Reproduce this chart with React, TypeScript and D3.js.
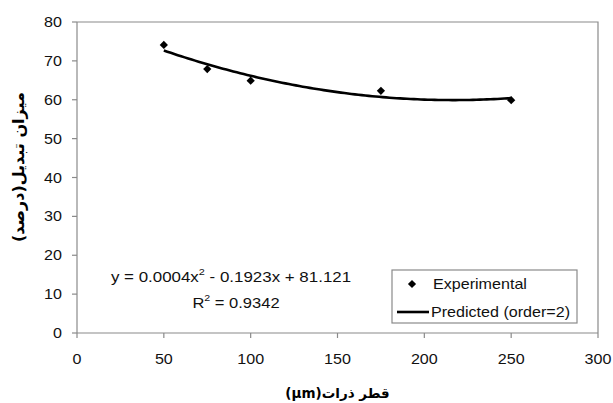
import React from "react";
import * as d3 from "d3";

// ---- data ----
const diameters = [50, 75, 100, 175, 250]; // µm
const conversion = [74.1, 67.9, 64.9, 62.3, 59.9]; // %
const xTicks = [0, 50, 100, 150, 200, 250, 300];
const yTicks = [0, 10, 20, 30, 40, 50, 60, 70, 80];
const legendLabels = ["Experimental", "Predicted (order=2)"];
const equationText = "y = 0.0004x";
const equationRest = " - 0.1923x + 81.121";
const r2Text = " = 0.9342";
const xTitle = "قطر ذرات(μm)";
const yTitle = "میزان تبدیل(درصد)";

// least-squares quadratic fit of the experimental points (trendline)
function quadFit(xs: number[], ys: number[]) {
  const S = (f: (x: number, y: number) => number) =>
    xs.reduce((s, x, i) => s + f(x, ys[i]), 0);
  const n = xs.length;
  const s1 = S((x) => x), s2 = S((x) => x * x), s3 = S((x) => x ** 3), s4 = S((x) => x ** 4);
  const t0 = S((_, y) => y), t1 = S((x, y) => x * y), t2 = S((x, y) => x * x * y);
  const M = [
    [n, s1, s2, t0],
    [s1, s2, s3, t1],
    [s2, s3, s4, t2],
  ];
  for (let i = 0; i < 3; i++) {
    for (let k = i + 1; k < 3; k++) {
      const f = M[k][i] / M[i][i];
      for (let j = i; j < 4; j++) M[k][j] -= f * M[i][j];
    }
  }
  const sol = [0, 0, 0];
  for (let i = 2; i >= 0; i--) {
    let v = M[i][3];
    for (let j = i + 1; j < 3; j++) v -= M[i][j] * sol[j];
    sol[i] = v / M[i][i];
  }
  const [c, b, a] = sol;
  return (x: number) => a * x * x + b * x + c;
}

const W = 613, H = 403;
const L = 77, R = 598, T = 22, B = 333;
const FONT = "'Liberation Sans', Arial, sans-serif";
const AR_FONT = "'DejaVu Sans', sans-serif";
const SX = 1.15;
const FS = 14;
const GRAY = "#8a8a8a";
const TXT = "#111";

function T2({ x, y, anchor = "start", children, size = FS }: any) {
  return (
    <text
      transform={`translate(${x},${y}) scale(${SX},1)`}
      textAnchor={anchor}
      dominantBaseline="central"
      fontFamily={FONT}
      fontSize={size}
      fill={TXT}
    >
      {children}
    </text>
  );
}

export default function App() {
  const x = d3.scaleLinear().domain([0, 300]).range([L, R]);
  const y = d3.scaleLinear().domain([0, 80]).range([B, T]);
  const fit = quadFit(diameters, conversion);
  const xs = d3.range(diameters[0], diameters[diameters.length - 1] + 0.001, 2);
  const line = d3
    .line<number>()
    .x((d) => x(d))
    .y((d) => y(fit(d)));
  const marker = d3.symbol().type(d3.symbolSquare).size(34)()!;

  const legX = 392, legY = 270, legW = 185, legH = 53;

  return (
    <svg
      width={W}
      height={H}
      style={{ position: "absolute", left: 0, top: 0, background: "#fff" }}
    >
      <rect x={0} y={0} width={W} height={H} fill="#fff" />
      {/* plot frame */}
      <path d={`M${L},${T}H${R}V${B}`} fill="none" stroke={GRAY} strokeWidth={1.2} />
      {/* axes */}
      <line x1={L} x2={L} y1={T} y2={B} stroke={GRAY} strokeWidth={1.2} />
      <line x1={L} x2={R} y1={B} y2={B} stroke={GRAY} strokeWidth={1.2} />
      {yTicks.map((t) => (
        <g key={"y" + t}>
          <line x1={L - 5} x2={L} y1={y(t)} y2={y(t)} stroke={GRAY} strokeWidth={1.2} />
          <T2 x={62} y={y(t)} anchor="end">
            {t}
          </T2>
        </g>
      ))}
      {xTicks.map((t) => (
        <g key={"x" + t}>
          <line x1={x(t)} x2={x(t)} y1={B} y2={B + 5} stroke={GRAY} strokeWidth={1.2} />
          <T2 x={x(t)} y={359} anchor="middle">
            {t}
          </T2>
        </g>
      ))}
      {/* trendline */}
      <path d={line(xs)!} fill="none" stroke="#000" strokeWidth={2.6} />
      {/* points */}
      {diameters.map((d, i) => (
        <path
          key={"p" + i}
          d={marker}
          transform={`translate(${x(d)},${y(conversion[i])}) rotate(45)`}
          fill="#000"
        />
      ))}
      {/* equation */}
      <text
        transform={`translate(231,277) scale(1.21,1)`}
        textAnchor="middle"
        dominantBaseline="central"
        fontFamily={FONT}
        fontSize={FS}
        fill={TXT}
      >
        {equationText}
        <tspan fontSize={9} dy={-6}>2</tspan>
        <tspan dy={6}>{equationRest}</tspan>
      </text>
      <text
        transform={`translate(236,303) scale(1.18,1)`}
        textAnchor="middle"
        dominantBaseline="central"
        fontFamily={FONT}
        fontSize={FS}
        fill={TXT}
      >
        R<tspan fontSize={9} dy={-6}>2</tspan>
        <tspan dy={6}>{r2Text}</tspan>
      </text>
      {/* legend */}
      <rect x={legX} y={legY} width={legW} height={legH} fill="#fff" stroke={GRAY} strokeWidth={1.2} />
      <path d={marker} transform={`translate(412,284) rotate(45)`} fill="#000" />
      <T2 x={433} y={284}>{legendLabels[0]}</T2>
      <line x1={397} x2={429} y1={312} y2={312} stroke="#000" strokeWidth={2.6} />
      <T2 x={431} y={312}>{legendLabels[1]}</T2>
      {/* axis titles */}
      <text
        x={(L + R) / 2}
        y={393}
        textAnchor="middle"
        dominantBaseline="central"
        direction="rtl"
        fontFamily={AR_FONT}
        fontWeight="bold"
        fontSize={13.5}
        fill="#000"
      >
        {xTitle}
      </text>
      <text
        transform={`translate(18,167) rotate(-90)`}
        textAnchor="middle"
        dominantBaseline="central"
        direction="rtl"
        fontFamily={AR_FONT}
        fontWeight="bold"
        fontSize={16}
        fill="#000"
      >
        {yTitle}
      </text>
    </svg>
  );
}
